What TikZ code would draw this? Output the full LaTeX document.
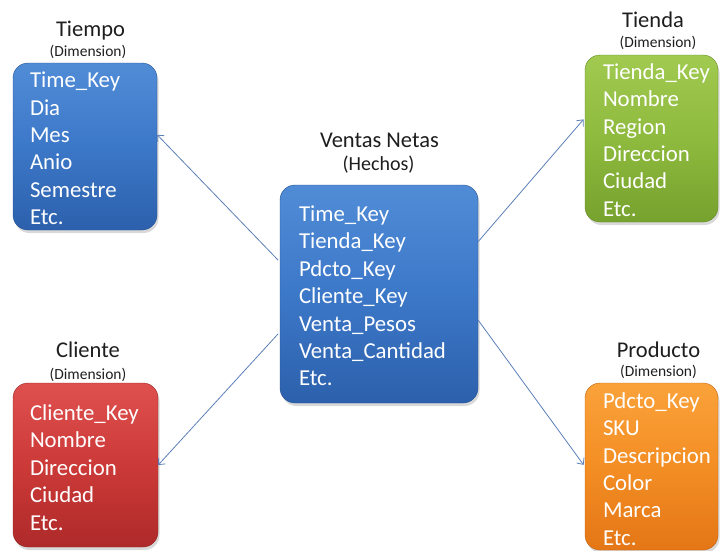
\documentclass[tikz,border=0pt]{standalone}
\usepackage{fontspec}
\setmainfont{Carlito}
\usetikzlibrary{shadows,arrows.meta,calc}
\definecolor{blueT}{RGB}{80,140,214}
\definecolor{blueM}{RGB}{60,120,200}
\definecolor{blueB}{RGB}{44,96,172}
\definecolor{greenT}{RGB}{160,202,80}
\definecolor{greenM}{RGB}{142,186,62}
\definecolor{greenB}{RGB}{118,162,46}
\definecolor{redT}{RGB}{222,80,78}
\definecolor{redM}{RGB}{204,58,56}
\definecolor{redB}{RGB}{174,42,42}
\definecolor{orangeT}{RGB}{250,162,58}
\definecolor{orangeM}{RGB}{243,142,36}
\definecolor{orangeB}{RGB}{228,118,22}
\definecolor{arrowc}{RGB}{91,127,184}
\definecolor{titlec}{RGB}{30,30,30}
\tikzset{
  dimbox/.style={rounded corners=15pt, inner sep=0pt,
    drop shadow={shadow xshift=1.5pt, shadow yshift=-3pt, opacity=0.3}},
  boxtext/.style={inner sep=0pt, text=white, align=left,
    font=\fontsize{22.8}{27.4}\selectfont},
  bluebox/.style={top color=blueT, bottom color=blueB, middle color=blueM, draw=blueB!85!black, line width=0.4pt},
  greenbox/.style={top color=greenT, bottom color=greenB, middle color=greenM, draw=greenB!85!black, line width=0.4pt},
  redbox/.style={top color=redT, bottom color=redB, middle color=redM, draw=redB!85!black, line width=0.4pt},
  orangebox/.style={top color=orangeT, bottom color=orangeB, middle color=orangeM, draw=orangeB!85!black, line width=0.4pt},
  ttl/.style={anchor=base, inner sep=0pt, text=titlec, font=\fontsize{22.5}{26}\selectfont},
  subttl/.style={anchor=base, inner sep=0pt, text=titlec, font=\fontsize{15.5}{18}\selectfont},
  hechos/.style={anchor=base, inner sep=0pt, text=titlec, font=\fontsize{20}{24}\selectfont},
  conn/.style={draw=arrowc, line width=0.8pt, -{Straight Barb[length=5pt,width=9pt]}},
}
\begin{document}
\begin{tikzpicture}[x=1pt,y=-1pt]
\useasboundingbox (0,0) rectangle (720,550);
\clip (0,0) rectangle (720,550);
% boxes
\node[dimbox, bluebox, minimum width=144pt, minimum height=167pt] (tiempo) at (85,146.5) {};
\node[dimbox, bluebox, minimum width=198pt, minimum height=218pt] (ventas) at (379,294) {};
\node[dimbox, greenbox, minimum width=133pt, minimum height=167pt] (tienda) at (651.5,138.5) {};
\node[dimbox, redbox, minimum width=145pt, minimum height=164pt] (cliente) at (85.5,465) {};
\node[dimbox, orangebox, minimum width=133pt, minimum height=167pt] (producto) at (651.5,466.5) {};
% box contents
\node[boxtext, text width=110pt] (tiempoX) at ($(tiempo.center)+(0,2)$)
  {Time\_Key\\Dia\\Mes\\Anio\\Semestre\\Etc.};
\node[boxtext, text width=160pt] (ventasX) at ($(ventas.center)+(0,2)$)
  {Time\_Key\\Tienda\_Key\\Pdcto\_Key\\Cliente\_Key\\Venta\_Pesos\\Venta\_Cantidad\\Etc.};
\node[boxtext, text width=97pt] (tiendaX) at ($(tienda.center)+(0,1.5)$)
  {Tienda\_Key\\Nombre\\Region\\Direccion\\Ciudad\\Etc.};
\node[boxtext, text width=111pt] (clienteX) at ($(cliente.center)+(0,2.5)$)
  {Cliente\_Key\\Nombre\\Direccion\\Ciudad\\Etc.};
\node[boxtext, text width=97pt] (productoX) at ($(producto.center)+(0,2.5)$)
  {Pdcto\_Key\\SKU\\Descripcion\\Color\\Marca\\Etc.};
% titles
\node[ttl] (tiempoT) at (90.5,36) {Tiempo};
\node[subttl] (tiempoS) at (88,56) {(Dimension)};
\node[ttl] (ventasT) at (379.5,147) {Ventas Netas};
\node[hechos] (ventasS) at (378.5,170) {(Hechos)};
\node[ttl] (tiendaT) at (653,27) {Tienda};
\node[subttl] (tiendaS) at (658,47) {(Dimension)};
\node[ttl] (clienteT) at (88,357) {Cliente};
\node[subttl] (clienteS) at (88,379) {(Dimension)};
\node[ttl] (productoT) at (658.5,357) {Producto};
\node[subttl] (productoS) at (658.5,376) {(Dimension)};
% connectors
\draw[conn, shorten <=2.5pt] ($(ventas.north west)!0.353!(ventas.south west)$) -- ($(tiempo.north east)!0.43!(tiempo.south east)$);
\draw[conn, shorten <=2.5pt] ($(ventas.north west)!0.674!(ventas.south west)$) -- ($(cliente.north east)!0.5!(cliente.south east)$);
\draw[conn, shorten >=2pt] ($(ventas.north east)!0.26!(ventas.south east)$) -- ($(tienda.north west)!0.377!(tienda.south west)$);
\draw[conn, shorten >=2pt] ($(ventas.north east)!0.62!(ventas.south east)$) -- ($(producto.north west)!0.5!(producto.south west)$);
\end{tikzpicture}
\end{document}
